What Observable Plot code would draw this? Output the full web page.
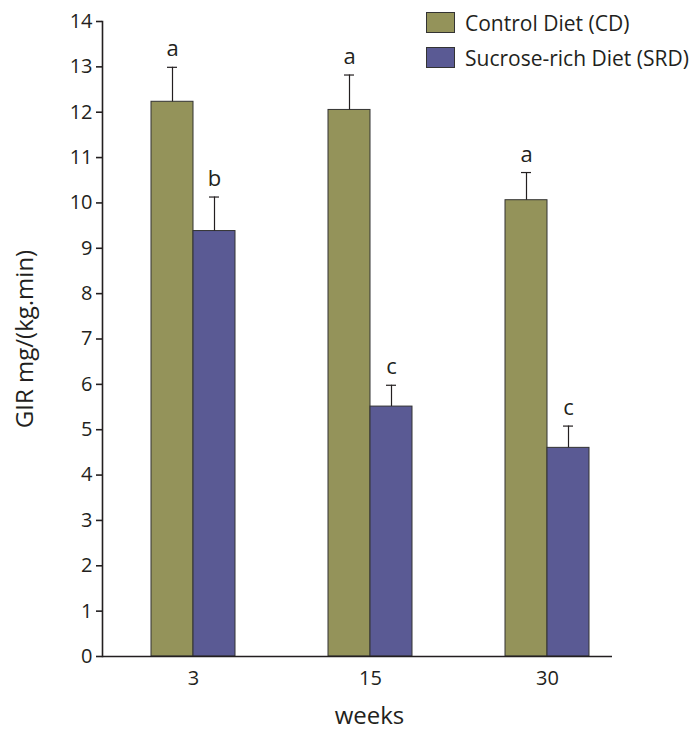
<!DOCTYPE html>
<html>
<head>
<meta charset="utf-8">
<script src="https://cdn.jsdelivr.net/npm/d3@7"></script>
<script src="https://cdn.jsdelivr.net/npm/@observablehq/plot@0.6"></script>
<style>
  html, body { margin: 0; padding: 0; background: #fff; }
  #wrap { position: relative; width: 693px; height: 734px; font-family: "Open Sans", sans-serif; color: #231f20; }
  #legend { position: absolute; left: 426px; top: 12px; font-size: 21px; }
  .row { display: flex; align-items: center; height: 21px; margin-bottom: 14px; }
  .sw { width: 29px; height: 21px; border: 1px solid #333; box-sizing: border-box; margin-right: 10px; }
</style>
</head>
<body>
<div id="wrap">
  <div id="chart"></div>
  <div id="legend"></div>
</div>
<script>
const weeks = ["3", "15", "30"];
const diets = ["Control Diet (CD)", "Sucrose-rich Diet (SRD)"];
const colors = ["#94935a", "#5a5a94"];
const cdValues = [12.23, 12.05, 10.06];
const cdErrors = [0.76, 0.77, 0.61];
const cdLetters = ["a", "a", "a"];
const srdValues = [9.38, 5.51, 4.60];
const srdErrors = [0.75, 0.47, 0.48];
const srdLetters = ["b", "c", "c"];
const yTicks = [0, 1, 2, 3, 4, 5, 6, 7, 8, 9, 10, 11, 12, 13, 14];

const cdRows = weeks.map((w, i) => ({week: w, value: cdValues[i], top: cdValues[i] + cdErrors[i], letter: cdLetters[i]}));
const srdRows = weeks.map((w, i) => ({week: w, value: srdValues[i], top: srdValues[i] + srdErrors[i], letter: srdLetters[i]}));

const ink = "#231f20";
const half = 42;

function groupMarks(rows, fill, side) {
  const dx = side * half / 2;
  return [
    Plot.barY(rows, {x: "week", y: "value", fill, stroke: "#333", strokeWidth: 1,
      insetLeft: side > 0 ? half : 0, insetRight: side < 0 ? half : 0}),
    Plot.ruleX(rows, {x: "week", y1: "value", y2: "top", dx, stroke: ink, strokeWidth: 1.2}),
    Plot.tickY(rows, {x: "week", y: "top", dx, stroke: ink, strokeWidth: 1.2, insetLeft: 37, insetRight: 37}),
    Plot.text(rows, {x: "week", y: "top", text: "letter", dx, dy: -11, lineAnchor: "bottom", fontSize: 22, fill: ink})
  ];
}

const chart = Plot.plot({
  width: 693,
  height: 734,
  marginLeft: 102,
  marginRight: 81,
  marginTop: 21,
  marginBottom: 78,
  style: {fontFamily: "Open Sans, sans-serif", fontSize: "20px", color: ink, background: "#fff"},
  x: {domain: weeks, paddingInner: 0.5268, paddingOuter: 0.2, align: 0.676, label: null},
  y: {domain: [0, 14], label: null},
  marks: [
    ...groupMarks(cdRows, colors[0], -1),
    ...groupMarks(srdRows, colors[1], 1),
    Plot.ruleY([0], {stroke: ink, strokeWidth: 1.6}),
    Plot.frame({anchor: "left", stroke: ink, strokeWidth: 1.6}),
    Plot.axisY({ticks: yTicks, tickSize: 6, tickPadding: 4, tickFormat: d => String(d), label: null, stroke: ink, strokeWidth: 1.6}),
    Plot.axisX({tickSize: 0, tickPadding: 14, label: null}),
    Plot.text(["GIR mg/(kg.min)"], {frameAnchor: "left", textAnchor: "middle", rotate: -90, dx: -77, text: d => d, fontSize: 24, fill: ink}),
    Plot.text(["weeks"], {frameAnchor: "bottom", dx: 12, dy: 67, text: d => d, fontSize: 24, fill: ink})
  ]
});
document.getElementById("chart").appendChild(chart);

const legend = document.getElementById("legend");
diets.forEach((d, i) => {
  const row = document.createElement("div");
  row.className = "row";
  const sw = document.createElement("div");
  sw.className = "sw";
  sw.style.background = colors[i];
  const label = document.createElement("span");
  label.textContent = d;
  row.appendChild(sw);
  row.appendChild(label);
  legend.appendChild(row);
});
</script>
</body>
</html>
